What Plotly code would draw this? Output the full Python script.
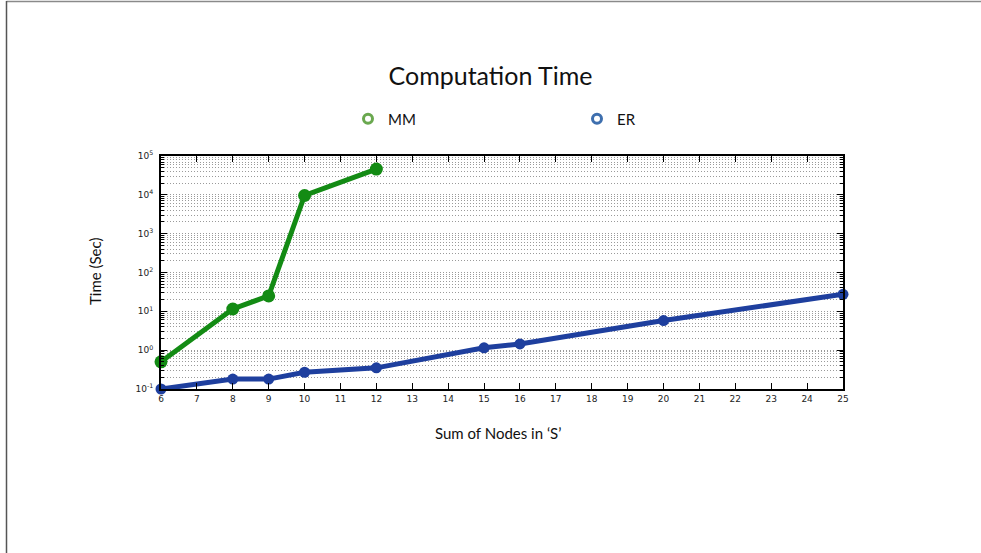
import plotly.graph_objects as go

# Sum of nodes in S and measured run time (seconds)
mm_nodes = [6, 8, 9, 10, 12]
mm_time = [0.5, 11.5, 25, 9600, 46000]

er_nodes = [6, 8, 9, 10, 12, 15, 16, 20, 25]
er_time = [0.1, 0.18, 0.18, 0.27, 0.35, 1.15, 1.45, 5.8, 27.5]

x_ticks = list(range(6, 26))
y_exps = [-1, 0, 1, 2, 3, 4, 5]
y_ticktext = ["10<sup>%d</sup>" % e for e in y_exps]

MM_LINE = "#138b14"
ER_LINE = "#1e3f9e"
MM_KEY = "#6aa84f"
ER_KEY = "#3e6fae"

W, H = 981, 553
L, R, T, B = 161, 138, 156, 164
pw, ph = W - L - R, H - T - B


def px_x(px):
    return (px - L) / pw


def px_y(py):
    return (H - B - py) / ph


fig = go.Figure()

fig.add_trace(go.Scatter(
    x=mm_nodes, y=mm_time, mode="lines+markers", name="MM", showlegend=False,
    line=dict(color=MM_LINE, width=5), marker=dict(color=MM_LINE, size=13),
    cliponaxis=False,
))
fig.add_trace(go.Scatter(
    x=er_nodes, y=er_time, mode="lines+markers", name="ER", showlegend=False,
    line=dict(color=ER_LINE, width=5), marker=dict(color=ER_LINE, size=11),
    cliponaxis=False,
))

# legend keys drawn as open rings
for name, col in [("MM", MM_KEY), ("ER", ER_KEY)]:
    fig.add_trace(go.Scatter(
        x=[None], y=[None], mode="markers", name=name,
        marker=dict(symbol="circle-open", color=col, size=9, line=dict(width=3, color=col)),
    ))

axis_common = dict(
    showline=True, linecolor="black", linewidth=2, mirror="allticks",
    ticks="inside", tickcolor="black", tickwidth=1,
    zeroline=False,
)

fig.update_xaxes(
    **axis_common,
    range=[6, 25], tickvals=x_ticks, ticklen=6, showgrid=False,
    tickfont=dict(family="DejaVu Sans", size=9, color="#222"),
)
fig.update_yaxes(
    **axis_common,
    type="log", range=[-1, 5], tickvals=[10 ** e for e in y_exps], ticktext=y_ticktext,
    ticklen=6,
    showgrid=True, gridcolor="#9a9a9a", griddash="1px,2px", gridwidth=1,
    minor=dict(dtick="D1", ticks="inside", ticklen=3, tickcolor="black",
               showgrid=True, gridcolor="#9a9a9a", griddash="1px,2px", gridwidth=1),
    tickfont=dict(family="DejaVu Sans", size=9, color="#222"),
    ticklabelstandoff=4,
)

fig.update_layout(
    width=W, height=H,
    margin=dict(l=L, r=R, t=T, b=B),
    paper_bgcolor="white", plot_bgcolor="white",
    title=dict(text="Computation Time", x=0.5, xanchor="center", xref="container",
               y=1 - 76 / H, yanchor="middle", yref="container",
               font=dict(family="Lato", size=25, color="#111")),
    legend=dict(orientation="h", xref="container", yref="container",
                x=348 / W, xanchor="left", y=1 - 119 / H, yanchor="middle",
                entrywidth=184, font=dict(family="Lato", size=15, color="#111"),
                bgcolor="rgba(0,0,0,0)"),
    annotations=[
        dict(text="Time (Sec)", x=px_x(95), y=px_y(272), xref="paper", yref="paper",
             xanchor="center", yanchor="middle",
             textangle=-90, showarrow=False, font=dict(family="Lato", size=15, color="#111")),
        dict(text="Sum of Nodes in \u2018S\u2019", x=px_x(498), y=px_y(433), xref="paper", yref="paper",
             xanchor="center", yanchor="middle",
             showarrow=False, font=dict(family="Lato", size=15, color="#111")),
    ],
    shapes=[
        dict(type="line", xref="paper", yref="paper", x0=px_x(6.5), x1=px_x(W), y0=px_y(1.5), y1=px_y(1.5),
             line=dict(color="#8a8a8a", width=1.5)),
        dict(type="line", xref="paper", yref="paper", x0=px_x(6.5), x1=px_x(6.5), y0=px_y(1), y1=px_y(H),
             line=dict(color="#555555", width=1.5)),
    ],
)

fig.write_html("out.html")
